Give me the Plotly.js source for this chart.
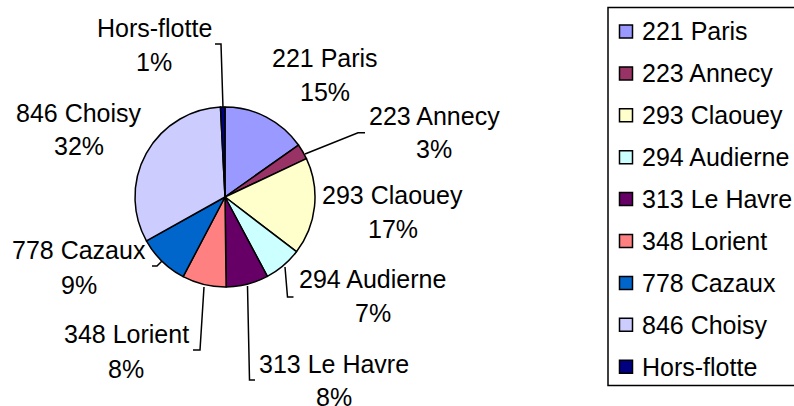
<!DOCTYPE html>
<html>
<head>
<meta charset="utf-8">
<script src="https://cdn.plot.ly/plotly-3.0.1.min.js"></script>
<style>
html,body{margin:0;padding:0;background:#fff;}
#chart{width:794px;height:406px;}
</style>
</head>
<body>
<div id="chart"></div>
<script>
// ---- data ----
const categories = ["221 Paris", "223 Annecy", "293 Claouey", "294 Audierne", "313 Le Havre", "348 Lorient", "778 Cazaux", "846 Choisy", "Hors-flotte"];
const shares = [15.2, 2.8, 17.4, 6.8, 7.6, 7.9, 9.2, 32.3, 0.8];
const colors = ["#9999FF", "#993366", "#FFFFCC", "#CCFFFF", "#660066", "#FF8080", "#0066CC", "#CCCCFF", "#000080"];

// ---- layout helpers (pixel -> paper) ----
const W = 794, H = 406;
const px = x => x / W;
const py = y => 1 - y / H;
const FONT = "Liberation Sans, Arial, sans-serif";
const FS = 25;

const total = shares.reduce((a, b) => a + b, 0);
const pctText = shares.map(v => Math.round(v / total * 100) + "%");

// label placement (pixel centers of name line and percent line)
const labelPos = [
  {x: 325, y1: 57.5, y2: 91.5},   // Paris
  {x: 434, y1: 116, y2: 149},     // Annecy
  {x: 392.5, y1: 195, y2: 229},   // Claouey
  {x: 372.5, y1: 279, y2: 313},   // Audierne
  {x: 333.5, y1: 364, y2: 396.5}, // Le Havre
  {x: 126, y1: 333.5, y2: 369},   // Lorient
  {x: 79, y1: 249.5, y2: 285},    // Cazaux
  {x: 79, y1: 113, y2: 146.5},    // Choisy
  {x: 154, y1: 28.5, y2: 62.5}    // Hors-flotte
];

const leaders = [
  null,
  [[365, 132.7], [358, 132.7], [305, 154]],
  null,
  [[285, 267], [287.5, 297], [293.5, 297]],
  [[247.5, 286], [249.5, 380], [255, 380]],
  [[193, 350], [200, 350], [204, 287]],
  [[152, 266], [157, 266], [162, 261]],
  null,
  [[215, 44], [221, 44], [223, 108]]
];

const annotations = [];
const shapes = [];

categories.forEach((c, i) => {
  const p = labelPos[i];
  annotations.push({x: px(p.x), y: py(p.y1), xref: "paper", yref: "paper", text: c, showarrow: false,
    xanchor: "center", yanchor: "middle", font: {family: FONT, size: FS, color: "#000"}});
  annotations.push({x: px(p.x), y: py(p.y2), xref: "paper", yref: "paper", text: pctText[i], showarrow: false,
    xanchor: "center", yanchor: "middle", height: 18, font: {family: FONT, size: FS, color: "#000"}});
  const L = leaders[i];
  if (L) {
    const path = L.map((pt, k) => (k ? "L" : "M") + px(pt[0]) + "," + py(pt[1])).join(" ");
    shapes.push({type: "path", xref: "paper", yref: "paper", path: path, line: {color: "#000", width: 1.5}});
  }
});

// legend box
shapes.push({type: "rect", xref: "paper", yref: "paper", x0: px(608), x1: px(800), y0: py(7.5), y1: py(385.5),
  line: {color: "#000", width: 1.5}, fillcolor: "rgba(0,0,0,0)"});

categories.forEach((c, i) => {
  const cy = 31.5 + i * 41.9;
  shapes.push({type: "rect", xref: "paper", yref: "paper", x0: px(619.5), x1: px(632.5), y0: py(cy - 6.5), y1: py(cy + 6.5),
    line: {color: "#000", width: 1.5}, fillcolor: colors[i]});
  annotations.push({x: px(640), y: py(cy), xref: "paper", yref: "paper", text: c, showarrow: false,
    xanchor: "left", yanchor: "middle", font: {family: FONT, size: FS, color: "#000"}});
});

const trace = {
  type: "pie",
  labels: categories,
  values: shares,
  sort: false,
  direction: "clockwise",
  rotation: 0,
  textinfo: "none",
  hoverinfo: "label+percent",
  marker: {colors: colors, line: {color: "#000", width: 1.5}},
  domain: {x: [px(135), px(315)], y: [py(287), py(107)]},
  showlegend: false
};

const layout = {
  width: W, height: H,
  margin: {l: 0, r: 0, t: 0, b: 0},
  paper_bgcolor: "#fff",
  plot_bgcolor: "#fff",
  showlegend: false,
  font: {family: FONT, size: FS, color: "#000"},
  annotations: annotations,
  shapes: shapes
};

Plotly.newPlot("chart", [trace], layout, {staticPlot: true, displayModeBar: false});
</script>
</body>
</html>
